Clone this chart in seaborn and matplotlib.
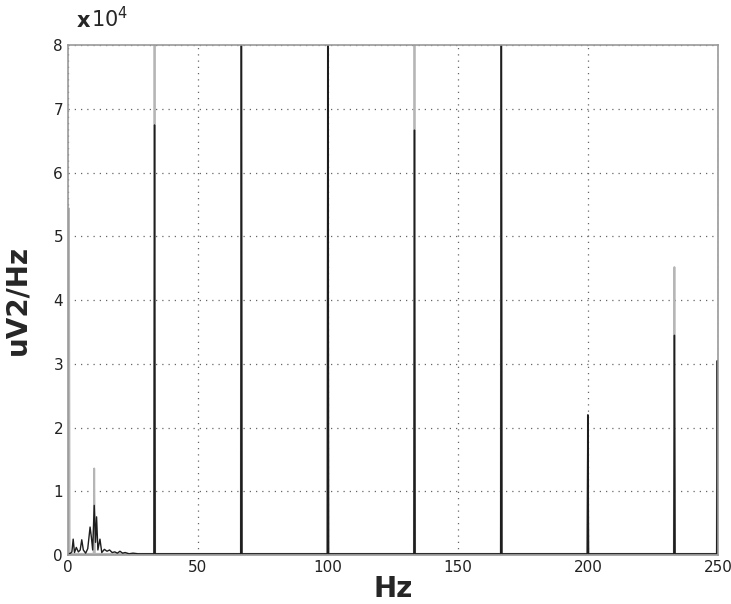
import numpy as np
import pandas as pd
import seaborn as sns
import matplotlib
matplotlib.use("Agg")
import matplotlib.pyplot as plt

# ---- data (PSD in units of 1e4 uV^2/Hz) ----
# low-frequency cluster, dark trace
lf_freq = [0.3, 1.0, 1.5, 2.0, 2.5, 3.2, 4.0, 4.7, 5.3, 5.9, 6.8, 7.6, 8.5, 9.0, 9.5,
           10.1, 10.6, 11.0, 11.5, 12.3, 13.0, 14.0, 15.0, 16.0, 17.0, 18.0, 19.0,
           20.0, 21.0, 22.0, 23.5, 25.0, 27.0, 29.0, 31.0]
lf_dark = [0.02, 0.03, 0.05, 0.25, 0.04, 0.12, 0.05, 0.08, 0.24, 0.08, 0.03, 0.1,
           0.44, 0.28, 0.08, 0.78, 0.2, 0.6, 0.08, 0.25, 0.04, 0.09, 0.06, 0.08,
           0.04, 0.05, 0.03, 0.06, 0.03, 0.04, 0.02, 0.03, 0.02, 0.02, 0.02]

# harmonic peaks
peak_freq = [33.3, 66.7, 100.0, 133.3, 166.7, 200.0, 233.3, 249.8]
peak_dark = [6.75, 9.5, 9.5, 6.67, 9.5, 2.2, 3.45, 3.05]
peak_light = [9.5, 9.5, 9.5, 9.5, 9.5, 2.2, 4.52, 3.05]

# light trace extra components (DC and 10 Hz)
light_extra_freq = [0.4, 10.1]
light_extra_val = [5.44, 1.36]

floor_val = 0.02
x_ticks = [0, 50, 100, 150, 200, 250]
y_ticks = [0, 1, 2, 3, 4, 5, 6, 7, 8]


def build_trace(fr, vals, lead_f=None, lead_v=None):
    f_out, v_out = [], []
    if lead_f is not None:
        f_out += list(lead_f)
        v_out += list(lead_v)
    for f, v in zip(fr, vals):
        f_out += [f - 0.25, f, f + 0.25]
        v_out += [floor_val, v, floor_val]
    return pd.DataFrame({"Hz": f_out, "psd": v_out})


dark_df = build_trace(peak_freq, peak_dark, lf_freq, lf_dark)
light_df = build_trace(light_extra_freq + peak_freq, light_extra_val + peak_light)

sns.set_style("white")
plt.rcParams["font.family"] = ["DejaVu Sans"]

fig = plt.figure(figsize=(7.31, 6.04), dpi=100)
ax = fig.add_axes([0.093, 0.081, 0.889, 0.844])

sns.lineplot(data=light_df, x="Hz", y="psd", ax=ax, color="#b5b5b5", lw=1.3,
             estimator=None, sort=False)
sns.lineplot(data=dark_df, x="Hz", y="psd", ax=ax, color="#1e1e1e", lw=1.0,
             estimator=None, sort=False)

ax.set_xlim(0, 250)
ax.set_ylim(0, 8)
ax.set_xticks(x_ticks)
ax.set_yticks(y_ticks)
ax.set_xticklabels([str(t) for t in x_ticks], fontsize=11, color="#222")
ax.set_yticklabels([str(t) for t in y_ticks], fontsize=11, color="#222")
ax.tick_params(direction="in", length=4, width=0.8, color="#555")
ax.grid(True, linestyle=(0, (1, 4)), color="#666", lw=0.9)

for s in ax.spines.values():
    s.set_visible(True)
    s.set_color("#999")
    s.set_linewidth(1.2)

ax.set_xlabel("Hz", fontsize=20, fontweight="bold", labelpad=0)
ax.set_ylabel("uV2/Hz", fontsize=20, fontweight="bold", labelpad=16)

fig.text(0.105, 0.955, "x", fontsize=15, fontweight="bold", ha="left", va="baseline")
fig.text(0.125, 0.955, r"10$^4$", fontsize=15, ha="left", va="baseline")

fig.savefig("out.png", dpi=100)
